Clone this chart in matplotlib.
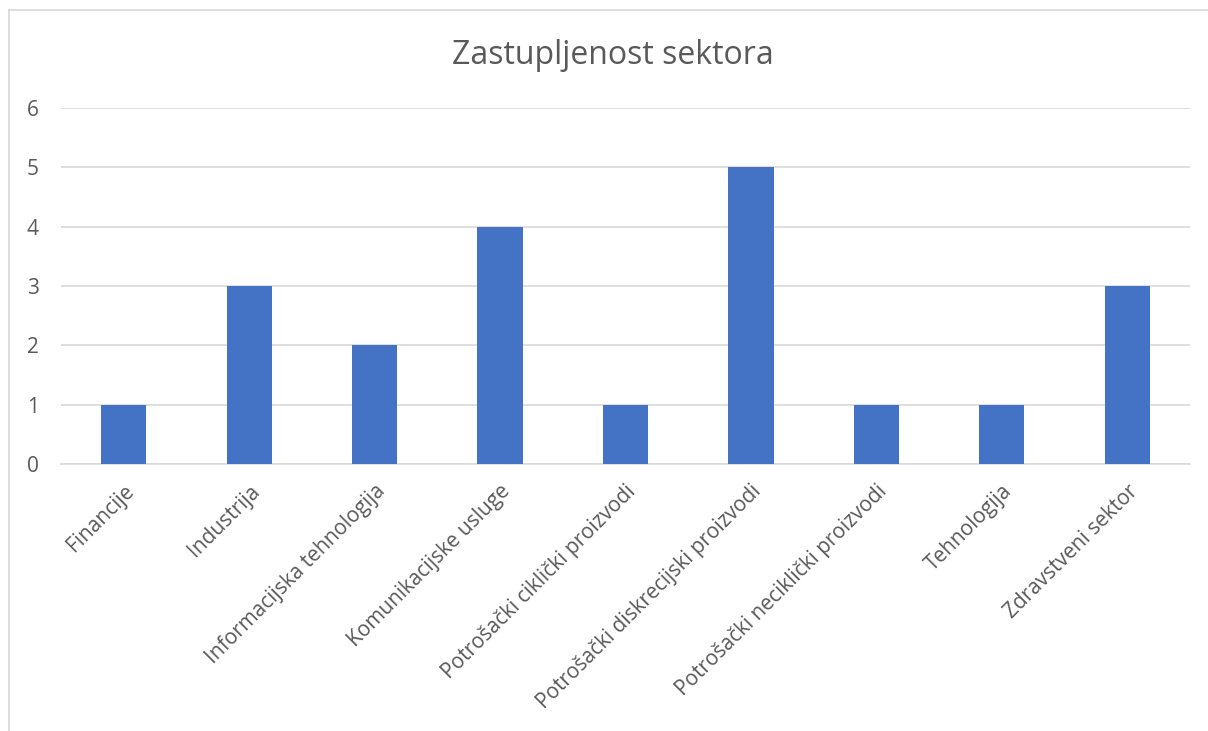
import matplotlib
matplotlib.use("Agg")
import matplotlib.pyplot as plt
from matplotlib.lines import Line2D

categories = ["Financije", "Industrija", "Informacijska tehnologija", "Komunikacijske usluge",
              "Potrošački ciklički proizvodi", "Potrošački diskrecijski proizvodi",
              "Potrošački neciklički proizvodi", "Tehnologija", "Zdravstveni sektor"]
values = [1, 3, 2, 4, 1, 5, 1, 1, 3]
yticks = [0, 1, 2, 3, 4, 5, 6]
title = "Zastupljenost sektora"

plt.rcParams['font.family'] = ['Open Sans', 'DejaVu Sans']
W, H = 1208, 731
fig = plt.figure(figsize=(W / 100, H / 100), dpi=100)
fig.patch.set_facecolor("white")

# plot area in pixels
x0, x1 = 61, 1190
y0, y6 = 464, 108
ax = fig.add_axes([x0 / W, 1 - y0 / H, (x1 - x0) / W, (y0 - y6) / H])

xs = list(range(len(categories)))
ax.bar(xs, values, width=0.36, color="#4472C4", zorder=3)
ax.set_xlim(-0.5, len(categories) - 0.5)
ax.set_ylim(0, 6)
ax.set_yticks(yticks)
ax.set_yticklabels([str(t) for t in yticks])
ax.yaxis.grid(True, color="#D9D9D9", linewidth=1.2, zorder=0)
ax.set_axisbelow(True)
for s in ["top", "right", "left"]:
    ax.spines[s].set_visible(False)
ax.spines["bottom"].set_color("#D9D9D9")
ax.spines["bottom"].set_linewidth(1.2)
ax.tick_params(axis="both", length=0, colors="#595959", labelsize=15)
ax.tick_params(axis="y", pad=16)
ax.set_xticks(xs)
ax.set_xticklabels(categories, rotation=45, ha="right", rotation_mode="anchor")
ax.tick_params(axis="x", pad=12)

fig.text(613 / W, 1 - 55 / H, title, ha="center", va="center", fontsize=23, color="#595959")

# chart border (top and left visible)
fig.add_artist(Line2D([9 / W, 1.0], [1 - 10 / H, 1 - 10 / H], transform=fig.transFigure,
                      color="#D9D9D9", linewidth=1.2))
fig.add_artist(Line2D([9 / W, 9 / W], [0, 1 - 10 / H], transform=fig.transFigure,
                      color="#D9D9D9", linewidth=1.2))

fig.savefig("out.png", dpi=100)
